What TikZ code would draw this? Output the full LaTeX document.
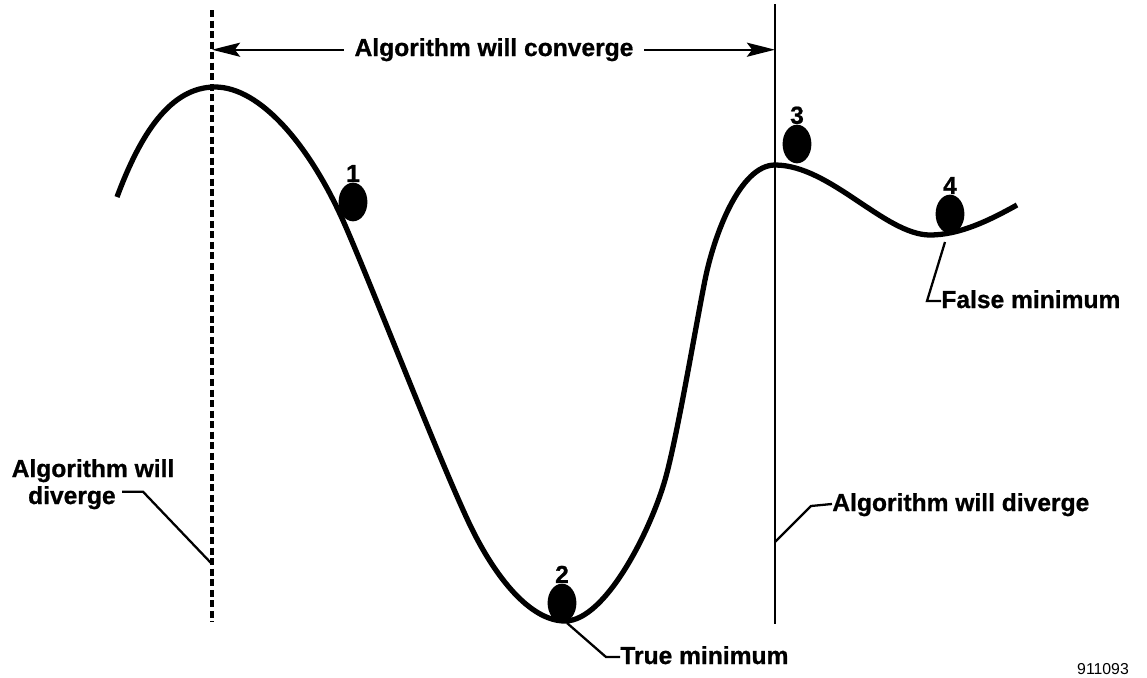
\documentclass[tikz,border=0pt]{standalone}
\usepackage{fontspec}
\setmainfont{Liberation Sans}
\newfontfamily\heavyfont[BoldFeatures={FakeBold=0.8}]{Liberation Sans}
\usetikzlibrary{arrows.meta,shapes.geometric}
\begin{document}
\begin{tikzpicture}[
    x=0.02cm, y=-0.02cm,
    lbl/.style={font=\heavyfont\bfseries\fontsize{14}{16}\selectfont, inner sep=0pt},
    ball/.style={ellipse, fill=black, minimum width=16.4pt, minimum height=22pt, inner sep=0pt,
                 label distance=4pt},
    curve/.style={line width=3pt},
    limit/.style={line width=1.5pt},
    dlimit/.style={line width=1.8pt, dash pattern=on 4pt off 2pt},
    leader/.style={line width=1.3pt},
    arrow/.style={-{Stealth[length=16pt, width=8pt, inset=3pt]}, line width=1.3pt}
]
\fill[white] (0,0) rectangle (1147,677);

% Limits of convergence
\coordinate (dtop) at (212,10);
\coordinate (dbot) at (212,622);
\coordinate (stop) at (775,4);
\coordinate (sbot) at (775,624);
\draw[dlimit] (dtop) -- (dbot);
\draw[limit] (stop) -- (sbot);

% Cost curve
\draw[curve] (117,197) .. controls (140,135) and (170,87) .. (215,87)
    .. controls (260,87) and (310,145) .. (345,225)
    .. controls (375,294) and (440,462) .. (470,525)
    .. controls (495,577) and (530,621) .. (565,621)
    .. controls (605,621) and (650,532) .. (665,480)
    .. controls (677,438) and (695,330) .. (705,280)
    .. controls (714,235) and (740,165) .. (775,165)
    .. controls (830,165) and (885,235) .. (930,235)
    .. controls (960,235) and (990,220) .. (1017,205);

% Balls
\node[ball, label={[lbl]above:1}] (ball1) at (353,202) {};
\node[ball, label={[lbl]above:2}] (ball2) at (562,603) {};
\node[ball, label={[lbl]above:3}] (ball3) at (797,144) {};
\node[ball, label={[lbl]above:4}] (ball4) at (950,214) {};

% Labels
\node[lbl, anchor=base, inner xsep=6pt] (conv) at (494,56) {Algorithm will converge};
\node[lbl, anchor=base] (ldiv1) at (93,477) {Algorithm will};
\node[lbl, anchor=base east] (ldiv2) at (116,504) {diverge};
\node[lbl, anchor=base west] (rdiv) at (832,511) {Algorithm will diverge};
\node[lbl, anchor=base west] (tmin) at (620,664) {True minimum};
\node[lbl, anchor=base west] (fmin) at (941,308) {False minimum};
\node[font=\fontsize{9}{10}\selectfont, anchor=base, inner sep=0pt] (code) at (1103,674) {911093};

% Convergence arrows
\draw[arrow] (conv.west) -- (conv.west -| dtop);
\draw[arrow] (conv.east) -- (conv.east -| stop);

% Leaders
\coordinate (dlink) at (211,563);
\coordinate (slink) at (775,542);
\coordinate (tlink) at (567,623);
\coordinate (flink) at (945,242);
\draw[leader] (ldiv2.east) ++(6,-6) -- ++(21,0) -- (dlink);
\draw[leader] (slink) -- (811,506) -- ([yshift=4pt]rdiv.base west);
\draw[leader] (tlink) -- (606,657) -- ([yshift=4pt]tmin.base west);
\draw[leader] (flink) -- (927,301) -- ([yshift=4pt]fmin.base west);
\end{tikzpicture}
\end{document}
